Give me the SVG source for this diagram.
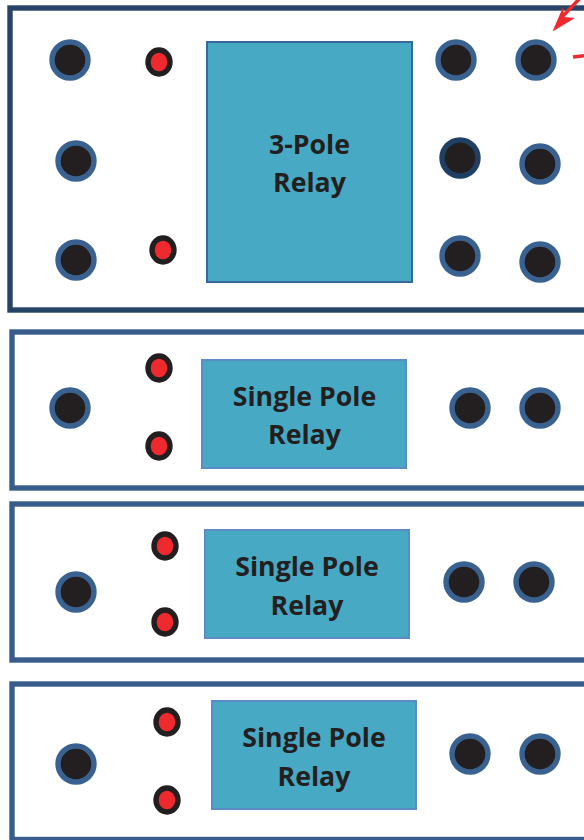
<svg xmlns="http://www.w3.org/2000/svg" width="584" height="840" viewBox="0 0 584 840">
<defs>
<style>
.panel{fill:#fff;stroke:#385d8a;stroke-width:5.4}
.panel.dark{stroke:#254466}
.relay{fill:#47a9c4;stroke:#5b8cc8;stroke-width:2}
.relay.dark{stroke:#38689a}
.term{fill:#231f20;stroke:#3a6290;stroke-width:5.4}
.term.dark{stroke:#1f3f63}
.led{fill:#ee2a2e;stroke:#231f20;stroke-width:5.4}
text{font-family:"Open Sans","Liberation Sans",sans-serif;font-weight:700;font-size:26.7px;fill:#231f20;text-anchor:middle}
</style>
</defs>
<rect width="584" height="840" fill="#fff"/>
<g id="panel-1">
<rect class="panel dark" x="10" y="8" width="590" height="302"/>
<circle class="term" cx="70" cy="60" r="18"/>
<ellipse class="led" cx="159" cy="62" rx="11" ry="12"/>
<circle class="term" cx="76" cy="161" r="18"/>
<circle class="term" cx="76" cy="260" r="18"/>
<ellipse class="led" cx="163" cy="250" rx="11" ry="12"/>
<rect class="relay dark" x="207" y="42" width="205" height="240"/>
<text x="309.500" y="154">3-Pole</text>
<text x="309.500" y="192">Relay</text>
<circle class="term" cx="456" cy="60" r="18"/>
<circle class="term" cx="536" cy="60" r="18"/>
<circle class="term dark" cx="460" cy="158" r="18"/>
<circle class="term" cx="540" cy="164" r="18"/>
<circle class="term" cx="460" cy="256" r="18"/>
<circle class="term" cx="540" cy="262" r="18"/>
</g>
<g id="panel-2">
<rect class="panel" x="12" y="332" width="590" height="156"/>
<circle class="term" cx="70" cy="408" r="18"/>
<ellipse class="led" cx="159" cy="368" rx="11" ry="12"/>
<ellipse class="led" cx="159" cy="446" rx="11" ry="12"/>
<rect class="relay" x="202" y="360" width="204" height="108"/>
<text x="304.500" y="406">Single Pole</text>
<text x="304.500" y="444">Relay</text>
<circle class="term" cx="470" cy="408" r="18"/>
<circle class="term" cx="540" cy="408" r="18"/>
</g>
<g id="panel-3">
<rect class="panel" x="12" y="504" width="590" height="156"/>
<circle class="term" cx="76" cy="592" r="18"/>
<ellipse class="led" cx="165" cy="546" rx="11" ry="12"/>
<ellipse class="led" cx="165" cy="622" rx="11" ry="12"/>
<rect class="relay" x="205" y="530" width="204" height="108"/>
<text x="307" y="576">Single Pole</text>
<text x="307" y="615">Relay</text>
<circle class="term" cx="464" cy="582" r="18"/>
<circle class="term" cx="534" cy="582" r="18"/>
</g>
<g id="panel-4">
<rect class="panel" x="12" y="684" width="590" height="155.500"/>
<circle class="term" cx="76" cy="764" r="18"/>
<ellipse class="led" cx="167" cy="722" rx="11" ry="12"/>
<ellipse class="led" cx="167" cy="800" rx="11" ry="12"/>
<rect class="relay" x="212" y="701" width="204" height="108"/>
<text x="314" y="747">Single Pole</text>
<text x="314" y="786">Relay</text>
<circle class="term" cx="470" cy="754" r="18"/>
<circle class="term" cx="540" cy="754" r="18"/>
</g>
<g id="connectors">
<path d="M584 -6L562 17" fill="none" stroke="#ee2a2e" stroke-width="3.500"/>
<polygon points="552.500,31.500 563,7 564,17 575,18" fill="#ee2a2e"/>
<path d="M573 57L584 55.800" fill="none" stroke="#ee2a2e" stroke-width="3.500"/>
</g>
</svg>
